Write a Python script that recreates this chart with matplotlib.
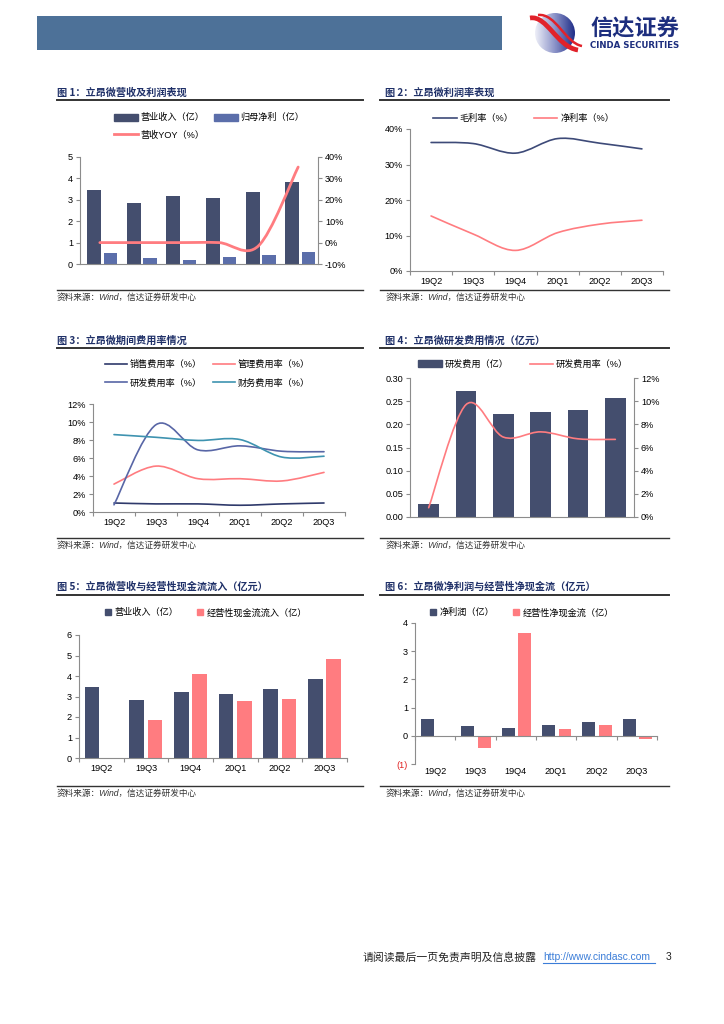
import numpy as np
import matplotlib
matplotlib.use('Agg')
import matplotlib.pyplot as plt
from matplotlib.path import Path
from matplotlib.patches import PathPatch, Patch, Rectangle, Circle
from matplotlib.lines import Line2D
from matplotlib.transforms import blended_transform_factory

plt.rcParams['font.family'] = ['Liberation Sans', 'Noto Sans CJK SC', 'DejaVu Sans']

# ── Data ──────────────────────────────────────────────
quarters = ['19Q2', '19Q3', '19Q4', '20Q1', '20Q2', '20Q3']

revenue = [3.45, 2.85, 3.18, 3.08, 3.38, 3.83]          # 营业收入（亿）
parent_profit = [0.52, 0.28, 0.18, 0.32, 0.42, 0.55]    # 归母净利（亿）
revenue_yoy = [0.0, 0.0, 0.0, 0.0, -1.5, 35.3]          # 营收YOY（%）

gross_margin = [36.2, 35.9, 33.2, 37.3, 36.0, 34.4]     # 毛利率（%）
net_margin = [15.5, 10.4, 5.8, 10.8, 13.2, 14.3]        # 净利率（%）

sales_rate = [1.0, 0.9, 0.9, 0.75, 0.9, 1.0]            # 销售费用率（%）
admin_rate = [3.1, 5.1, 3.7, 3.7, 3.45, 4.4]            # 管理费用率（%）
rd_rate = [0.8, 9.7, 6.9, 7.35, 6.75, 6.7]              # 研发费用率（%）
fin_rate = [8.6, 8.3, 7.95, 8.05, 6.1, 6.2]             # 财务费用率（%）

rd_expense = [0.027, 0.273, 0.222, 0.227, 0.230, 0.257] # 研发费用（亿）

revenue_5 = [3.44, 2.85, 3.20, 3.10, 3.39, 3.85]        # 营业收入（亿）
cash_in = [np.nan, 1.84, 4.08, 2.80, 2.90, 4.83]        # 经营性现金流流入（亿）

net_profit = [0.60, 0.33, 0.26, 0.38, 0.48, 0.58]       # 净利润（亿）
net_cash = [np.nan, -0.45, 3.64, 0.25, 0.38, -0.13]     # 经营性净现金流（亿）

NAVY = '#444E6E'
LBLUE = '#5B6EAA'
SALMON = '#FF7C80'
GRAY = '#8C8C8C'
TITLE_C = '#1F3068'
FS = 6.6

W, H = 724, 1024
fig = plt.figure(figsize=(W / 100, H / 100), dpi=100)
fig.patch.set_facecolor('white')


def rect(x0, y0, x1, y1):
    return [x0 / W, 1 - y1 / H, (x1 - x0) / W, (y1 - y0) / H]


def fpt(x, y):
    return (x / W, 1 - y / H)


def smooth(xs, ys):
    # Catmull-Rom style bezier through the data points (like Excel smoothed lines)
    pts = np.column_stack([xs, ys]).astype(float)
    verts, codes = [pts[0]], [Path.MOVETO]
    for i in range(len(pts) - 1):
        p0 = pts[i - 1] if i > 0 else pts[i]
        p1, p2 = pts[i], pts[i + 1]
        p3 = pts[i + 2] if i + 2 < len(pts) else pts[i + 1]
        verts += [p1 + (p2 - p0) / 6, p2 - (p3 - p1) / 6, p2]
        codes += [Path.CURVE4] * 3
    return Path(verts, codes)


def add_curve(ax, ys, color, lw=1.2):
    ax.add_patch(PathPatch(smooth(np.arange(len(ys)), ys), fill=False,
                           edgecolor=color, lw=lw, capstyle='round', zorder=3))


def style(ax, right=False):
    ax.set_facecolor('none')
    ax.spines['top'].set_visible(False)
    ax.spines['right'].set_visible(right)
    for s in ax.spines.values():
        s.set_color(GRAY)
        s.set_linewidth(0.8)
    ax.set_xlim(-0.5, 5.5)
    ax.set_xticks(np.arange(-0.5, 6, 1))
    ax.set_xticklabels([])
    ax.set_xticks(np.arange(6), minor=True)
    ax.set_xticklabels(quarters, minor=True)
    ax.tick_params(axis='x', which='minor', length=0, pad=4, labelsize=FS)
    ax.tick_params(axis='both', which='major', length=3, width=0.8, color=GRAY,
                   labelsize=FS, pad=2)


def legend(handles, labels, x, y, ncol, **kw):
    opts = dict(loc='upper left', bbox_to_anchor=fpt(x, y), ncol=ncol, frameon=False,
                fontsize=FS, borderpad=0, borderaxespad=0, handlelength=2.6,
                handletextpad=0.3, columnspacing=1.0, labelspacing=0.9,
                handleheight=0.8)
    opts.update(kw)
    fig.legend(handles, labels, **opts)


# ── Page decoration ───────────────────────────────────
page = fig.add_axes([0, 0, 1, 1], zorder=-5)
page.set_xlim(0, W)
page.set_ylim(H, 0)
page.axis('off')

page.add_patch(Rectangle((37, 16), 465, 34, facecolor='#4D7198', edgecolor='none'))
# logo
grad = np.linspace(0, 1, 64)[None, :] * np.ones((64, 1))
im = page.imshow(grad, extent=(534, 576, 54, 12), cmap=matplotlib.colors.LinearSegmentedColormap.from_list(
    'lg', ['#F2F3FA', '#8B93C8', '#1C2A86']), zorder=1)
circ = Circle((555, 33), 20, transform=page.transData)
im.set_clip_path(circ)
sw = Path([(530, 18), (547, 15), (557, 47), (578, 50)],
          [Path.MOVETO, Path.CURVE4, Path.CURVE4, Path.CURVE4])
page.add_patch(PathPatch(sw, fill=False, edgecolor='#E1222A', lw=3.4, zorder=2))
sw2 = Path([(538, 15), (556, 13), (565, 43), (582, 46)],
           [Path.MOVETO, Path.CURVE4, Path.CURVE4, Path.CURVE4])
page.add_patch(PathPatch(sw2, fill=False, edgecolor='#E1222A', lw=1.8, zorder=2))
page.text(590, 29, '信达证券', fontsize=16, fontweight='bold', color='#1D2E7E',
          family=['Noto Sans CJK SC'], va='center', ha='left')
page.text(590, 46, 'CINDA SECURITIES', fontsize=6.2, fontweight='bold', color='#1D2E7E',
          family=['DejaVu Sans'], va='center', ha='left')

titles = [
    (57, 93, '图 1：立昂微营收及利润表现'),
    (385, 93, '图 2：立昂微利润率表现'),
    (57, 341, '图 3：立昂微期间费用率情况'),
    (385, 341, '图 4：立昂微研发费用情况（亿元）'),
    (57, 587, '图 5：立昂微营收与经营性现金流流入（亿元）'),
    (385, 587, '图 6：立昂微净利润与经营性净现金流（亿元）'),
]
for x, y, t in titles:
    page.text(x, y, t, fontsize=7.3, fontweight='bold', color=TITLE_C,
              family=['Noto Sans CJK SC'], va='center', ha='left')

for y in [100, 348, 595]:
    page.plot([57, 363], [y, y], color='#333333', lw=1.4)
    page.plot([380, 669], [y, y], color='#333333', lw=1.4)
for y in [290, 538, 786]:
    page.plot([57, 363], [y, y], color='#333333', lw=1.0)
    page.plot([380, 669], [y, y], color='#333333', lw=1.0)
    for x in [57, 386]:
        page.text(x, y + 7, '资料来源：Wind，信达证券研发中心', fontsize=6.2, style='italic',
                  color='#333333', va='center', ha='left')

page.text(363, 957, '请阅读最后一页免责声明及信息披露', fontsize=7.8, color='#222222',
          family=['Noto Sans CJK SC'], va='center', ha='left')
page.text(543, 957, 'http://www.cindasc.com', fontsize=7.4, color='#3B7DD8',
          va='center', ha='left')
page.plot([543, 655], [963, 963], color='#3B7DD8', lw=0.8)
page.text(666, 957, '3', fontsize=7.4, color='#222222', va='center', ha='left')

x = np.arange(6)

# ── Panel 1 ───────────────────────────────────────────
ax1 = fig.add_axes(rect(80, 157, 318, 264))
style(ax1)
ax1.bar(x - 0.147, revenue, width=0.35, color=NAVY, zorder=2)
ax1.bar(x + 0.265, parent_profit, width=0.33, color=LBLUE, zorder=2)
ax1.set_ylim(0, 5)
ax1.set_yticks(range(6))
ax1r = ax1.twinx()
style(ax1r, right=True)
ax1r.spines['left'].set_visible(False)
ax1r.spines['bottom'].set_visible(False)
ax1r.set_ylim(-10, 40)
ax1r.set_yticks(range(-10, 41, 10))
ax1r.set_yticklabels([f'{v}%' for v in range(-10, 41, 10)])
ax1r.set_xticks([])
ax1r.set_xticks([], minor=True)
add_curve(ax1r, revenue_yoy, SALMON, lw=2.0)
legend([Patch(color=NAVY), Line2D([], [], color=SALMON, lw=2.0), Patch(color=LBLUE)],
       ['营业收入（亿）', '营收YOY（%）', '归母净利（亿）'], 114, 113, 2)

# ── Panel 2 ───────────────────────────────────────────
ax2 = fig.add_axes(rect(410, 129, 663, 271))
style(ax2)
ax2.set_ylim(0, 40)
ax2.set_yticks(range(0, 41, 10))
ax2.set_yticklabels([f'{v}%' for v in range(0, 41, 10)])
add_curve(ax2, gross_margin, '#3D4A78', lw=1.2)
add_curve(ax2, net_margin, SALMON, lw=1.2)
legend([Line2D([], [], color='#3D4A78', lw=1.2), Line2D([], [], color=SALMON, lw=1.2)],
       ['毛利率（%）', '净利率（%）'], 433, 114, 2, columnspacing=2.2)

# ── Panel 3 ───────────────────────────────────────────
ax3 = fig.add_axes(rect(93, 404, 345, 512))
style(ax3)
ax3.set_ylim(0, 12)
ax3.set_yticks(range(0, 13, 2))
ax3.set_yticklabels([f'{v}%' for v in range(0, 13, 2)])
c_sales, c_admin, c_rd, c_fin = '#2F3A6B', SALMON, '#5866A6', '#3E93B0'
add_curve(ax3, sales_rate, c_sales)
add_curve(ax3, admin_rate, c_admin)
add_curve(ax3, rd_rate, c_rd)
add_curve(ax3, fin_rate, c_fin)
legend([Line2D([], [], color=c, lw=1.2) for c in [c_sales, c_rd, c_admin, c_fin]],
       ['销售费用率（%）', '研发费用率（%）', '管理费用率（%）', '财务费用率（%）'],
       105, 360, 2, handlelength=2.4, labelspacing=1.0, columnspacing=1.2)

# ── Panel 4 ───────────────────────────────────────────
ax4 = fig.add_axes(rect(410, 378, 634, 517))
style(ax4)
ax4.bar(x, rd_expense, width=0.56, color=NAVY, zorder=2)
ax4.set_ylim(0, 0.30)
ax4.set_yticks(np.arange(0, 0.301, 0.05))
ax4.set_yticklabels([f'{v:.2f}' for v in np.arange(0, 0.301, 0.05)])
ax4r = ax4.twinx()
style(ax4r, right=True)
ax4r.spines['left'].set_visible(False)
ax4r.spines['bottom'].set_visible(False)
ax4r.set_ylim(0, 12)
ax4r.set_yticks(range(0, 13, 2))
ax4r.set_yticklabels([f'{v}%' for v in range(0, 13, 2)])
ax4r.set_xticks([])
ax4r.set_xticks([], minor=True)
add_curve(ax4r, rd_rate, SALMON, lw=1.2)
legend([Patch(color=NAVY), Line2D([], [], color=SALMON, lw=1.2)],
       ['研发费用（亿）', '研发费用率（%）'], 418, 360, 2, columnspacing=2.3)

# ── Panel 5 ───────────────────────────────────────────
ax5 = fig.add_axes(rect(79, 635, 347, 758))
style(ax5)
ax5.bar(x - 0.21, revenue_5, width=0.33, color=NAVY, zorder=2)
ax5.bar(x + 0.20, cash_in, width=0.33, color=SALMON, zorder=2)
ax5.set_ylim(0, 6)
ax5.set_yticks(range(7))
sq = dict(marker='s', linestyle='none', markersize=4.5)
legend([Line2D([], [], color=NAVY, **sq), Line2D([], [], color=SALMON, **sq)],
       ['营业收入（亿）', '经营性现金流流入（亿）'], 104, 608, 2,
       handlelength=0.8, columnspacing=2.0)

# ── Panel 6 ───────────────────────────────────────────
ax6 = fig.add_axes(rect(415, 623, 657, 764))
style(ax6)
ax6.bar(x - 0.19, net_profit, width=0.32, color=NAVY, zorder=2)
ax6.bar(x + 0.22, net_cash, width=0.32, color=SALMON, zorder=2)
ax6.set_ylim(-1, 4)
ax6.set_yticks(range(-1, 5))
ax6.set_yticklabels(['(1)', '0', '1', '2', '3', '4'])
ax6.get_yticklabels()[0].set_color('#E02020')
ax6.spines['bottom'].set_position(('data', 0))
ax6.set_xticklabels([], minor=True)
tr = blended_transform_factory(ax6.transData, ax6.transAxes)
for i, q in enumerate(quarters):
    ax6.text(i, -0.02, q, transform=tr, ha='center', va='top', fontsize=FS)
legend([Line2D([], [], color=NAVY, **sq), Line2D([], [], color=SALMON, **sq)],
       ['净利润（亿）', '经营性净现金流（亿）'], 429, 608, 2,
       handlelength=0.8, columnspacing=2.0)

fig.savefig('out.png', dpi=100, facecolor='white')
